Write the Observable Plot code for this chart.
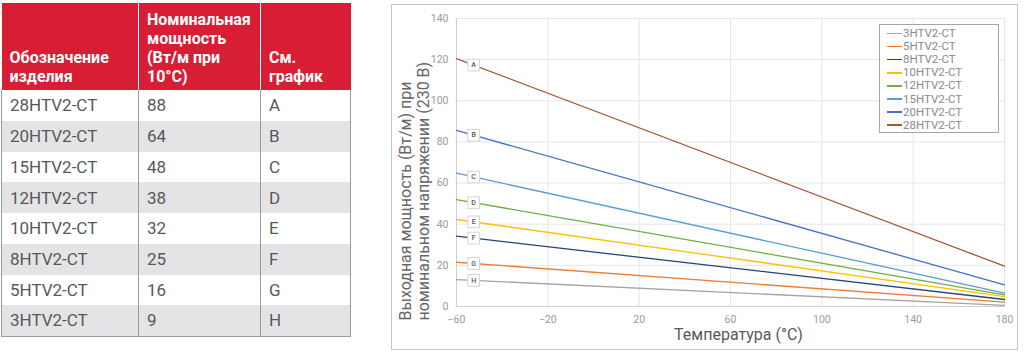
<!DOCTYPE html>
<html>
<head>
<meta charset="utf-8">
<script src="https://cdn.jsdelivr.net/npm/d3@7"></script>
<script src="https://cdn.jsdelivr.net/npm/@observablehq/plot@0.6"></script>
<style>
  html, body { margin: 0; padding: 0; background: #fff; }
  #root { position: relative; width: 1024px; height: 354px; overflow: hidden; font-family: Roboto, "Noto Sans", sans-serif; }
  table.spec { position: absolute; left: 1px; top: 3px; width: 349px; border-collapse: collapse; table-layout: fixed; }
  table.spec th { background: #d81e34; color: #fff; font-weight: 700; font-size: 16px; line-height: 19px; text-align: left; vertical-align: bottom; padding: 0 2px 4px 8px; height: 87px; box-sizing: border-box; border-left: 1px solid #fff; white-space: pre-line; }
  table.spec th:first-child { border-left: none; }
  table.spec td { font-size: 17px; color: #585858; font-weight: 400; height: 30.75px; padding: 0 6px 0 8px; box-sizing: border-box; border-left: 1px solid #9a9a9a; border-right: 1px solid #9a9a9a; white-space: nowrap; }
  table.spec tr:nth-child(odd) td { background: #fff; }
  table.spec tr:nth-child(even) td { background: #e4e4e6; }
  table.spec tbody tr:last-child td { border-bottom: 1px solid #9a9a9a; }
  #frame { position: absolute; left: 391px; top: 4px; width: 627px; height: 346px; border: 1px solid #c4c4c4; box-sizing: border-box; }
  #chart { position: absolute; left: 392px; top: 5px; }
  #legend { position: absolute; left: 879px; top: 24px; width: 120px; height: 109px; border: 1px solid #a6a6a6; box-sizing: border-box; background: #fff; padding-top: 2px; }
  #legend .item { height: 13.1px; display: flex; align-items: center; padding-left: 7px; font-size: 11.5px; color: #8a8a8a; line-height: 13px; }
  #legend .sw { width: 15px; height: 1.5px; margin-right: 1px; }
</style>
</head>
<body>
<div id="root">
  <table class="spec" id="tbl">
    <colgroup><col style="width:137px"><col style="width:122px"><col style="width:90px"></colgroup>
    <thead><tr id="thead"></tr></thead>
    <tbody id="tbody"></tbody>
  </table>
  <div id="frame"></div>
  <div id="chart"></div>
  <div id="legend"></div>
</div>
<script>
// ---- Table data ----
const tableHeaders = ["Обозначение\nизделия", "Номинальная\nмощность\n(Вт/м при\n10°C)", "См.\nграфик"];
const products = ["28HTV2-CT", "20HTV2-CT", "15HTV2-CT", "12HTV2-CT", "10HTV2-CT", "8HTV2-CT", "5HTV2-CT", "3HTV2-CT"];
const nominalPower = [88, 64, 48, 38, 32, 25, 16, 9];
const curveLetters = ["A", "B", "C", "D", "E", "F", "G", "H"];

// ---- Chart data ----
const legendOrder = ["3HTV2-CT", "5HTV2-CT", "8HTV2-CT", "10HTV2-CT", "12HTV2-CT", "15HTV2-CT", "20HTV2-CT", "28HTV2-CT"];
const seriesColors = ["#a5a5a5", "#ed7d31", "#264478", "#ffc000", "#70ad47", "#5b9bd5", "#4472c4", "#a8573a"];
const temperatures = [-60, 180];
// output power at -60 °C and at 180 °C, in products order (A..H)
const powerAtMinus60 = [120.5, 85.6, 64.8, 51.9, 42.3, 34.2, 21.5, 13.1];
const powerAt180 = [19.6, 10.5, 6.5, 5.6, 4.8, 3.4, 2.1, 0.5];
const xTicks = [-60, -20, 20, 60, 100, 140, 180];
const yTicks = [0, 20, 40, 60, 80, 100, 120, 140];
const labelTemperature = -52.5;
const xLabel = "Температура (°C)";
const yLabel = "Выходная мощность (Вт/м) при\nноминальном напряжении (230 В)";

// ---- Build table ----
const thead = document.getElementById("thead");
tableHeaders.forEach(h => { const th = document.createElement("th"); th.textContent = h; thead.appendChild(th); });
const tbody = document.getElementById("tbody");
products.forEach((p, i) => {
  const tr = document.createElement("tr");
  [p, String(nominalPower[i]), curveLetters[i]].forEach(v => { const td = document.createElement("td"); td.textContent = v; tr.appendChild(td); });
  tbody.appendChild(tr);
});

// ---- Build chart data ----
const lineData = [];
products.forEach((p, i) => {
  lineData.push({series: p, t: temperatures[0], w: powerAtMinus60[i]});
  lineData.push({series: p, t: temperatures[1], w: powerAt180[i]});
});
const labelData = products.map((p, i) => ({
  letter: curveLetters[i],
  t: labelTemperature,
  w: powerAtMinus60[i] + (powerAt180[i] - powerAtMinus60[i]) * (labelTemperature - temperatures[0]) / (temperatures[1] - temperatures[0])
}));
// draw in legend order so 28HTV2-CT is on top
lineData.sort((a, b) => legendOrder.indexOf(a.series) - legendOrder.indexOf(b.series));

const chart = Plot.plot({
  width: 625,
  height: 344,
  marginLeft: 64,
  marginRight: 13,
  marginTop: 13,
  marginBottom: 43,
  style: {fontFamily: "Roboto, sans-serif", fontSize: "10.5px", color: "#9a9a9a", background: "transparent", overflow: "visible"},
  x: {domain: [-60, 180], ticks: xTicks, tickSize: 0, tickPadding: 9, label: null},
  y: {domain: [0, 140], ticks: yTicks, tickSize: 0, tickPadding: 8, label: null},
  color: {domain: legendOrder, range: seriesColors},
  marks: [
    Plot.ruleX(xTicks, {stroke: "#e6e6e6", strokeWidth: 1}),
    Plot.ruleY(yTicks, {stroke: "#e6e6e6", strokeWidth: 1}),
    Plot.ruleX([-60], {stroke: "#cfcfcf"}),
    Plot.ruleY([0], {stroke: "#cfcfcf"}),
    Plot.line(lineData, {x: "t", y: "w", z: "series", stroke: "series", strokeWidth: 1.3}),
    Plot.dot(labelData, {x: "t", y: "w", symbol: "square", r: 6.6, fill: "#fff", stroke: "#d4d4d4", strokeWidth: 1}),
    Plot.text(labelData, {x: "t", y: "w", text: "letter", fontSize: 7, fill: "#555", fontWeight: 500}),
    Plot.text([xLabel], {frameAnchor: "bottom", dx: 8, dy: 28, lineAnchor: "middle", fontSize: 16, fill: "#595959"}),
    Plot.text([yLabel], {frameAnchor: "bottom-left", dx: -42, dy: 14, rotate: -90, textAnchor: "start", lineAnchor: "middle", lineHeight: 1.12, fontSize: 16, fill: "#666"})
  ]
});
document.getElementById("chart").appendChild(chart);

// ---- Legend ----
const legend = document.getElementById("legend");
legendOrder.forEach((s, i) => {
  const item = document.createElement("div");
  item.className = "item";
  const sw = document.createElement("span");
  sw.className = "sw";
  sw.style.background = seriesColors[i];
  const tx = document.createElement("span");
  tx.textContent = s;
  item.appendChild(sw); item.appendChild(tx);
  legend.appendChild(item);
});
</script>
</body>
</html>
